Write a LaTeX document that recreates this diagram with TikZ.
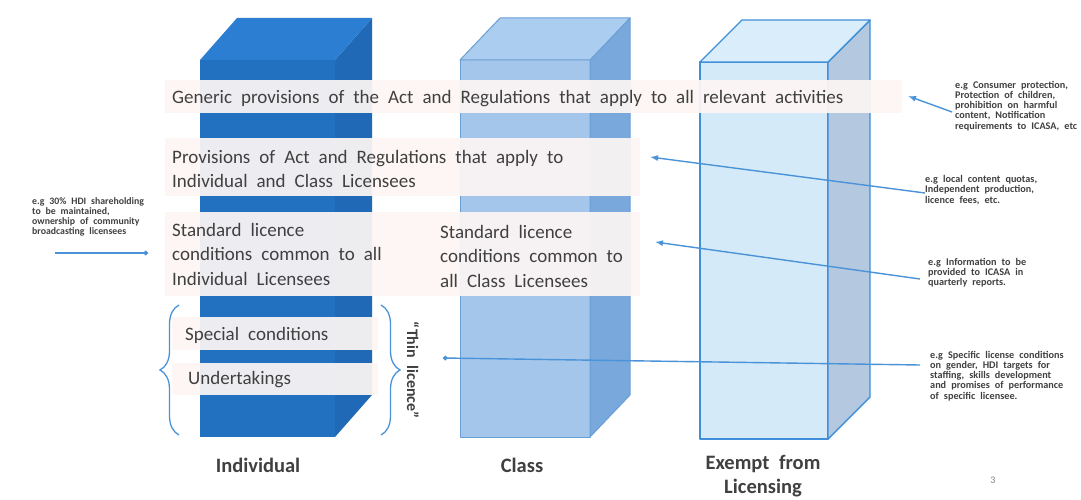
\documentclass[tikz,border=0pt]{standalone}
\usepackage{fontspec}
\setmainfont{Carlito}[WordSpace=2.1]
\newfontfamily\notefont{Carlito}[WordSpace=2.2]
\usepackage{tikz}
\usetikzlibrary{arrows.meta,positioning,calc,decorations.pathreplacing}
\definecolor{IndFront}{HTML}{2271C1}
\definecolor{IndSide}{HTML}{1F69B6}
\definecolor{IndTop}{HTML}{2C7ED2}
\definecolor{ClsFront}{HTML}{A3C6EA}
\definecolor{ClsSide}{HTML}{78A8DC}
\definecolor{ClsTop}{HTML}{ABCDEF}
\definecolor{ClsEdge}{HTML}{6A9FD6}
\definecolor{ExmFront}{HTML}{D4EAF8}
\definecolor{ExmSide}{HTML}{B4C8DF}
\definecolor{ExmTop}{HTML}{DAEDFA}
\definecolor{ExmEdge}{HTML}{3F90D8}
\definecolor{Band}{HTML}{FDF6F4}
\definecolor{Ink}{HTML}{404040}
\definecolor{Pointer}{HTML}{4A93D8}

\begin{document}
\begin{tikzpicture}[x=1pt,y=-1pt,
  clsface/.style={draw=ClsEdge,line width=1pt,line join=round},
  exmface/.style={draw=ExmEdge,line width=1.4pt,line join=round},
  band/.style={fill=Band,opacity=0.93},
  label/.style={anchor=west,align=left,inner sep=0pt,text=Ink,font=\fontsize{19}{24.5}\selectfont},
  note/.style={anchor=west,align=left,inner sep=0pt,text=Ink,font=\notefont\fontsize{10.2}{10.2}\selectfont\bfseries},
  title/.style={align=center,inner sep=0pt,text=Ink,font=\fontsize{20.5}{24}\selectfont\bfseries},
  arr/.style={-{Latex[length=8pt,width=6pt]},line width=1.4pt,color=Pointer},
  dot/.style={-{Circle[length=4.5pt]},line width=1.4pt,color=Pointer},
  curly/.style={decorate,decoration={brace,amplitude=19pt},line width=1.3pt,color=Pointer}
]
\useasboundingbox (0,0) rectangle (1081,500);
\fill[white] (0,0) rectangle (1081,500);

\fill[IndFront] (200,60) rectangle (335,437);
\fill[IndSide] (335,60) -- (372,18) -- (372,395) -- (335,437) -- cycle;
\fill[IndTop] (200,60) -- (237,18) -- (372,18) -- (335,60) -- cycle;

\filldraw[clsface,fill=ClsFront] (460,60) rectangle (590,437);
\filldraw[clsface,fill=ClsSide] (590,60) -- (630,18) -- (630,395) -- (590,437) -- cycle;
\filldraw[clsface,fill=ClsTop] (460,60) -- (500,18) -- (630,18) -- (590,60) -- cycle;

\filldraw[exmface,fill=ExmFront] (700,62) rectangle (828,439);
\filldraw[exmface,fill=ExmSide] (828,62) -- (870,20) -- (870,397) -- (828,439) -- cycle;
\filldraw[exmface,fill=ExmTop] (700,62) -- (742,20) -- (870,20) -- (828,62) -- cycle;

\fill[band] (165,80) rectangle (902,113);
\fill[band] (165,138) rectangle (640,196);
\fill[band] (165,212) rectangle (640,296);
\fill[band] (172,317) rectangle (378,350);
\fill[band] (172,363) rectangle (378,395);

\node[label] (generic) at (172,99) {Generic provisions of the Act and Regulations that apply to all relevant activities};
\node[label] (provisions) at (172,169) {Provisions of Act and Regulations that apply to\\Individual and Class Licensees};
\node[label] (stdind) at (172,254) {Standard licence\\conditions common to all\\Individual Licensees};
\node[label] (stdclass) at (440,256) {Standard licence\\conditions common to\\all Class Licensees};
\node[label] (special) at (185,335) {Special conditions};
\node[label] (undertake) at (188,380) {Undertakings};
\node[title,rotate=-90,font=\fontsize{16}{18}\selectfont\bfseries] (thin) at (413,370) {“Thin licence”};

\node[title] (individual) at (258,465) {Individual};
\node[title] (class) at (522,465) {Class};
\node[title] (exempt) at (763,476) {Exempt from\\Licensing};
\node[text=gray,font=\fontsize{10}{12}\selectfont] (pagenum) at (993,480) {3};

\node[note] (egall) at (955,106) {e.g Consumer protection,\\Protection of children,\\prohibition on harmful\\content, Notification\\requirements to ICASA, etc};
\node[note] (egshared) at (925,190) {e.g local content quotas,\\Independent production,\\licence fees, etc.};
\node[note] (egreports) at (928,273) {e.g Information to be\\provided to ICASA in\\quarterly reports.};
\node[note] (egspecific) at (930,376) {e.g Specific license conditions\\on gender, HDI targets for\\staffing, skills development\\and promises of performance\\of specific licensee.};
\node[note,font=\notefont\fontsize{9.8}{10.2}\selectfont\bfseries] (egleft) at (32,217) {e.g 30\% HDI shareholding\\to be maintained,\\ownership of community\\broadcasting licensees};

\coordinate (tipall) at (908,96);
\coordinate (tipshared) at (650,157);
\coordinate (tipreports) at (655,242);
\coordinate (tipspecific) at (443,358);
\coordinate (tailleft) at (55,253);
\coordinate (tipleft) at (148,253);
\coordinate (braceltop) at (179,305);
\coordinate (bracelbot) at (179,435);
\coordinate (bracertop) at (381,305);
\coordinate (bracerbot) at (381,435);

\draw[arr] ($(egall.west)+(-3,6)$) -- (tipall);
\draw[arr] ($(egshared.west)+(0,3)$) -- (tipshared);
\draw[arr] ($(egreports.west)+(-8,6)$) -- (tipreports);
\draw[dot] ($(egspecific.west)+(-10,-11)$) -- (tipspecific);
\draw[dot] (tailleft) -- (tipleft);

\draw[curly] (bracelbot) -- (braceltop);
\draw[curly] (bracertop) -- (bracerbot);
\end{tikzpicture}
\end{document}
